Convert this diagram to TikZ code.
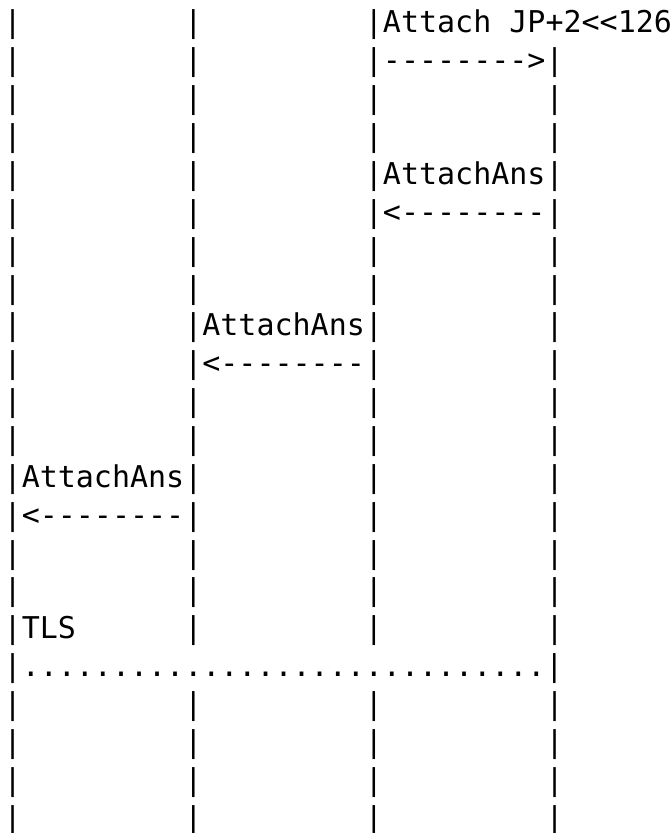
\documentclass[tikz,border=0pt]{standalone}
\usepackage{fontspec}
\setmonofont{DejaVu Sans Mono}
\tikzset{
  asciirow/.style={anchor=base west, inner sep=0pt, outer sep=0pt,
    font=\ttfamily\fontsize{30}{36}\selectfont, text=black}
}
\newcommand{\rowy}[1]{800-(#1-1)*37.86}
\begin{document}
\begin{tikzpicture}[x=1pt,y=1pt]
\useasboundingbox (0,0) rectangle (672,833);
\node[asciirow] (r1)  at (3.7,{\rowy{1}})  {|~~~~~~~~~|~~~~~~~~~|Attach~JP+2<{}<126};
\node[asciirow] (r2)  at (3.7,{\rowy{2}})  {|~~~~~~~~~|~~~~~~~~~|-{}-{}-{}-{}-{}-{}-{}->|};
\node[asciirow] (r3)  at (3.7,{\rowy{3}})  {|~~~~~~~~~|~~~~~~~~~|~~~~~~~~~|};
\node[asciirow] (r4)  at (3.7,{\rowy{4}})  {|~~~~~~~~~|~~~~~~~~~|~~~~~~~~~|};
\node[asciirow] (r5)  at (3.7,{\rowy{5}})  {|~~~~~~~~~|~~~~~~~~~|AttachAns|};
\node[asciirow] (r6)  at (3.7,{\rowy{6}})  {|~~~~~~~~~|~~~~~~~~~|<-{}-{}-{}-{}-{}-{}-{}-|};
\node[asciirow] (r7)  at (3.7,{\rowy{7}})  {|~~~~~~~~~|~~~~~~~~~|~~~~~~~~~|};
\node[asciirow] (r8)  at (3.7,{\rowy{8}})  {|~~~~~~~~~|~~~~~~~~~|~~~~~~~~~|};
\node[asciirow] (r9)  at (3.7,{\rowy{9}})  {|~~~~~~~~~|AttachAns|~~~~~~~~~|};
\node[asciirow] (r10) at (3.7,{\rowy{10}}) {|~~~~~~~~~|<-{}-{}-{}-{}-{}-{}-{}-|~~~~~~~~~|};
\node[asciirow] (r11) at (3.7,{\rowy{11}}) {|~~~~~~~~~|~~~~~~~~~|~~~~~~~~~|};
\node[asciirow] (r12) at (3.7,{\rowy{12}}) {|~~~~~~~~~|~~~~~~~~~|~~~~~~~~~|};
\node[asciirow] (r13) at (3.7,{\rowy{13}}) {|AttachAns|~~~~~~~~~|~~~~~~~~~|};
\node[asciirow] (r14) at (3.7,{\rowy{14}}) {|<-{}-{}-{}-{}-{}-{}-{}-|~~~~~~~~~|~~~~~~~~~|};
\node[asciirow] (r15) at (3.7,{\rowy{15}}) {|~~~~~~~~~|~~~~~~~~~|~~~~~~~~~|};
\node[asciirow] (r16) at (3.7,{\rowy{16}}) {|~~~~~~~~~|~~~~~~~~~|~~~~~~~~~|};
\node[asciirow] (r17) at (3.7,{\rowy{17}}) {|TLS~~~~~~|~~~~~~~~~|~~~~~~~~~|};
\node[asciirow] (r18) at (3.7,{\rowy{18}}) {|.............................|};
\node[asciirow] (r19) at (3.7,{\rowy{19}}) {|~~~~~~~~~|~~~~~~~~~|~~~~~~~~~|};
\node[asciirow] (r20) at (3.7,{\rowy{20}}) {|~~~~~~~~~|~~~~~~~~~|~~~~~~~~~|};
\node[asciirow] (r21) at (3.7,{\rowy{21}}) {|~~~~~~~~~|~~~~~~~~~|~~~~~~~~~|};
\node[asciirow] (r22) at (3.7,{\rowy{22}}) {|~~~~~~~~~|~~~~~~~~~|~~~~~~~~~|};
\end{tikzpicture}
\end{document}
